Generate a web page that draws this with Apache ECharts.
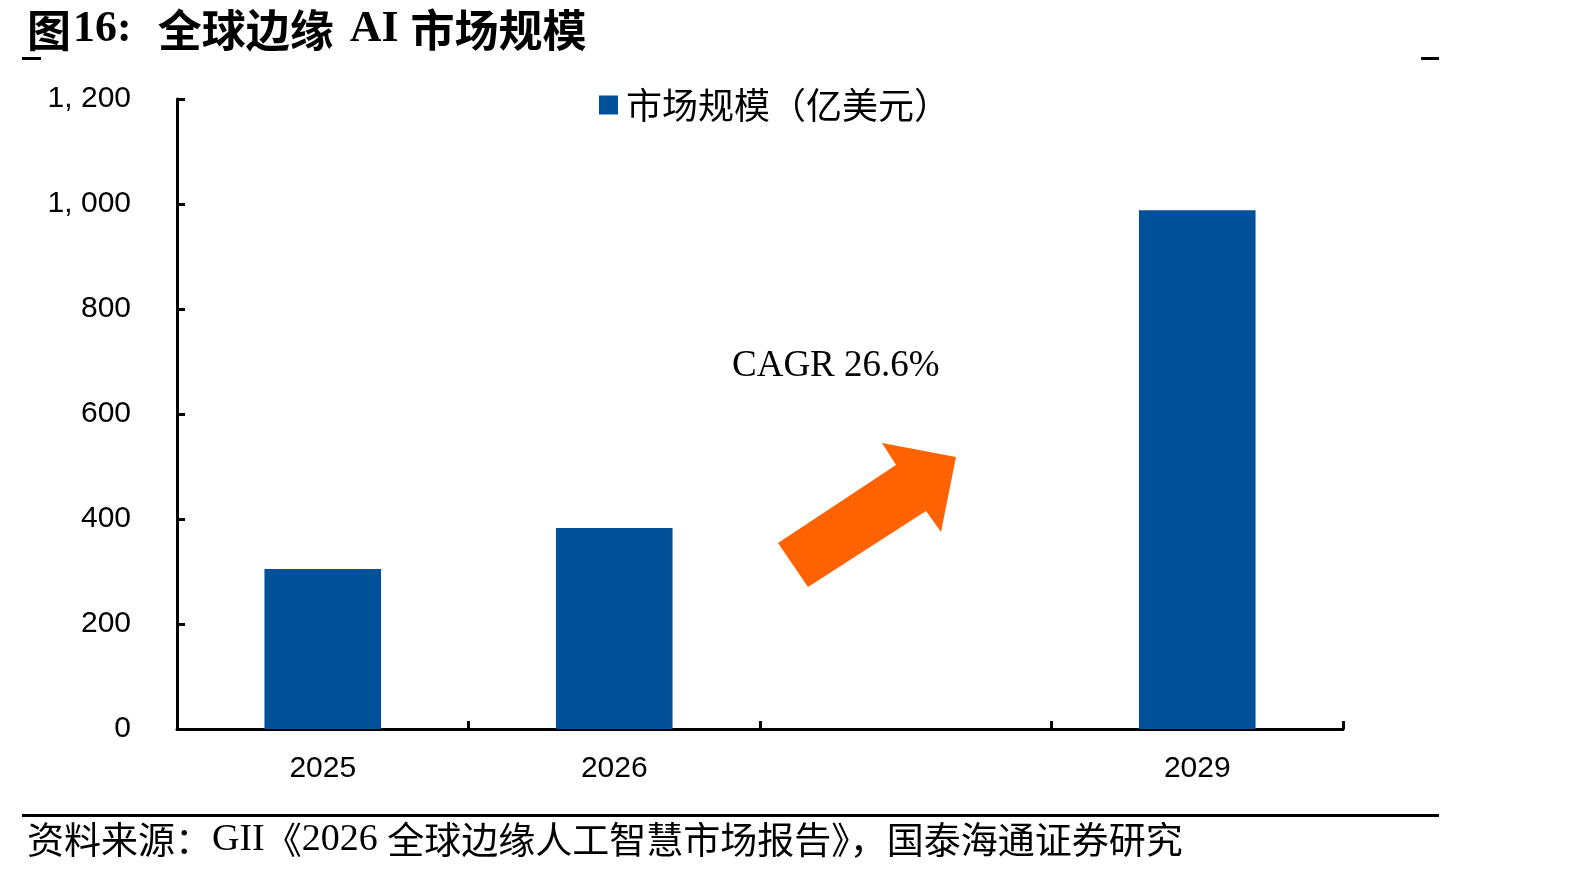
<!DOCTYPE html>
<html>
<head>
<meta charset="utf-8">
<script src="https://cdn.jsdelivr.net/npm/echarts@6/dist/echarts.min.js"></script>
<style>
  html, body { margin: 0; padding: 0; background: #fff; }
  #chart { width: 1592px; height: 872px; }
</style>
</head>
<body>
<div id="chart"></div>
<script>
const categories = ['2025', '2026', '', '2029'];
const marketSize = [305, 383, '-', 988];
const seriesName = '市场规模（亿美元）';
const cagrLabel = 'CAGR 26.6%';

const blue = '#00509A';
const orange = '#FF6200';
const cjk = '"Noto Sans CJK SC", sans-serif';
const serif = '"Liberation Serif", "Times New Roman", serif';
const sans = '"Liberation Sans", Arial, sans-serif';

const chart = echarts.init(document.getElementById('chart'));

const fmtThousands = v => {
  if (v >= 1000) return Math.floor(v / 1000) + ', ' + String(v % 1000).padStart(3, '0');
  return String(v);
};

chart.setOption({
  animation: false,
  title: [
    {
      left: 22,
      top: 3,
      text: '{a|图}{n|16:}{g1|全球边缘}{n2|AI}{g2|市场规模}',
      textStyle: {
        rich: {
          a: { fontFamily: cjk, fontWeight: 'bold', fontSize: 44, color: '#000' },
          n: { fontFamily: serif, fontWeight: 'bold', fontSize: 44, color: '#000', padding: [0, 0, 0, 2] },
          g1: { fontFamily: cjk, fontWeight: 'bold', fontSize: 44, color: '#000', padding: [0, 0, 0, 26] },
          n2: { fontFamily: serif, fontWeight: 'bold', fontSize: 44, color: '#000', padding: [0, 0, 0, 16] },
          g2: { fontFamily: cjk, fontWeight: 'bold', fontSize: 44, color: '#000', padding: [0, 0, 0, 12] }
        }
      }
    },
    {
      left: 22,
      top: 816,
      text: '{a|资料来源：}{b|GII}{a|《}{b|2026 }{a|全球边缘人工智慧市场报告》，国泰海通证券研究}',
      textStyle: {
        rich: {
          a: { fontFamily: cjk, fontWeight: 'normal', fontSize: 37, color: '#000' },
          b: { fontFamily: serif, fontWeight: 'normal', fontSize: 38, color: '#000' }
        }
      }
    }
  ],
  legend: {
    left: 594,
    top: 82,
    icon: 'rect',
    itemWidth: 19,
    itemHeight: 19,
    itemGap: 10,
    data: [seriesName],
    textStyle: { fontFamily: cjk, fontSize: 36, color: '#000', padding: [0, 0, 0, 3] }
  },
  grid: { left: 177, right: 249, top: 99, bottom: 143, containLabel: false },
  xAxis: {
    type: 'category',
    data: categories,
    boundaryGap: true,
    axisLine: { lineStyle: { color: '#000', width: 3 } },
    axisTick: { show: true, inside: true, length: 8, lineStyle: { color: '#000', width: 3 } },
    axisLabel: { interval: 0, margin: 25, fontFamily: sans, fontSize: 30, color: '#000' }
  },
  yAxis: {
    type: 'value',
    min: 0,
    max: 1200,
    interval: 200,
    axisLine: { show: true, lineStyle: { color: '#000', width: 3 } },
    axisTick: { show: true, inside: true, length: 8, lineStyle: { color: '#000', width: 3 } },
    splitLine: { show: false },
    axisLabel: { margin: 46, fontFamily: sans, fontSize: 30, color: '#000', formatter: fmtThousands }
  },
  series: [
    {
      name: seriesName,
      type: 'bar',
      barWidth: '40%',
      data: marketSize,
      itemStyle: { color: blue }
    }
  ],
  graphic: [
    { type: 'rect', shape: { x: 22, y: 57, width: 19, height: 3 }, style: { fill: '#000' } },
    { type: 'rect', shape: { x: 1421, y: 57, width: 18, height: 3 }, style: { fill: '#000' } },
    { type: 'rect', shape: { x: 22, y: 814, width: 1417, height: 3 }, style: { fill: '#000' } },
    {
      type: 'text',
      left: 732,
      top: 348,
      style: { text: cagrLabel, font: '37px ' + serif, fill: '#000' }
    },
    {
      type: 'polygon',
      shape: {
        points: [
          [778, 543], [896, 465], [882, 443], [956, 457],
          [941, 532], [926, 511], [808, 587]
        ]
      },
      style: { fill: orange }
    }
  ]
});
</script>
</body>
</html>
